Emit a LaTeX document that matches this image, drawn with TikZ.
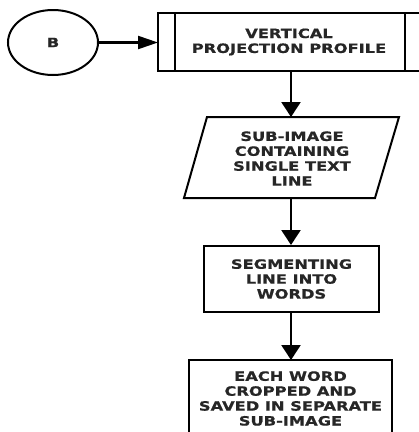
\documentclass[tikz,border=0pt]{standalone}
\usepackage{fontspec}
\newfontfamily\lblfont{DejaVu Sans}[FakeStretch=1.27,FakeBold=0.8]
\usetikzlibrary{arrows.meta,shapes.geometric}
\tikzset{
  lbl/.style={font=\lblfont\bfseries\fontsize{12.8}{14.9}\selectfont, align=center, inner sep=0pt, text=black!85},
  shp/.style={draw=black, line width=2pt},
  harr/.style={line width=2.2pt, -{Triangle[length=20pt,width=13pt]}},
  varr/.style={line width=2.4pt, -{Triangle[length=15pt,width=19pt]}}
}
\begin{document}
\begin{tikzpicture}[x=1pt,y=-1pt]
\useasboundingbox (0,0) rectangle (419,432);
\clip (0,0) rectangle (419,432);
% start connector
\node[shp, ellipse, minimum width=90pt, minimum height=65pt, inner sep=0pt] (b) at (53,42.5) {};
\node[lbl] (bt) at (53,42.5) {B};
% predefined process box
\draw[shp] (158,13) rectangle (422,71);
\draw[shp] (175,13) -- (175,71);
\draw[shp] (405,13) -- (405,71);
\coordinate (b1w) at (158,42.5);
\coordinate (b1s) at (291,71);
\node[lbl] (b1) at (289,42) {VERTICAL\\PROJECTION PROFILE};
% parallelogram
\draw[shp] (207,117) -- (399,117) -- (375,198) -- (184,198) -- cycle;
\coordinate (pt) at (291,117);
\coordinate (pb) at (291,198);
\node[lbl] (p) at (292,158.5) {SUB-IMAGE\\CONTAINING\\SINGLE TEXT\\LINE};
% box 3
\node[shp, minimum width=175pt, minimum height=65.5pt, inner sep=0pt] (s) at (291.5,278.75) {};
\node[lbl] (st) at (291.5,279) {SEGMENTING\\LINE INTO\\WORDS};
% box 4
\draw[shp] (189,360) rectangle (392,440);
\coordinate (w4n) at (291,360);
\node[lbl] (w) at (290.5,398.5) {EACH WORD\\CROPPED AND\\SAVED IN SEPARATE\\SUB-IMAGE};
% connectors
\draw[harr] (b.east) -- (b1w);
\draw[varr] (b1s) -- (pt);
\draw[varr] (pb) -- (s.north -| pb);
\draw[varr] (s.south -| pb) -- (w4n);
\end{tikzpicture}
\end{document}
